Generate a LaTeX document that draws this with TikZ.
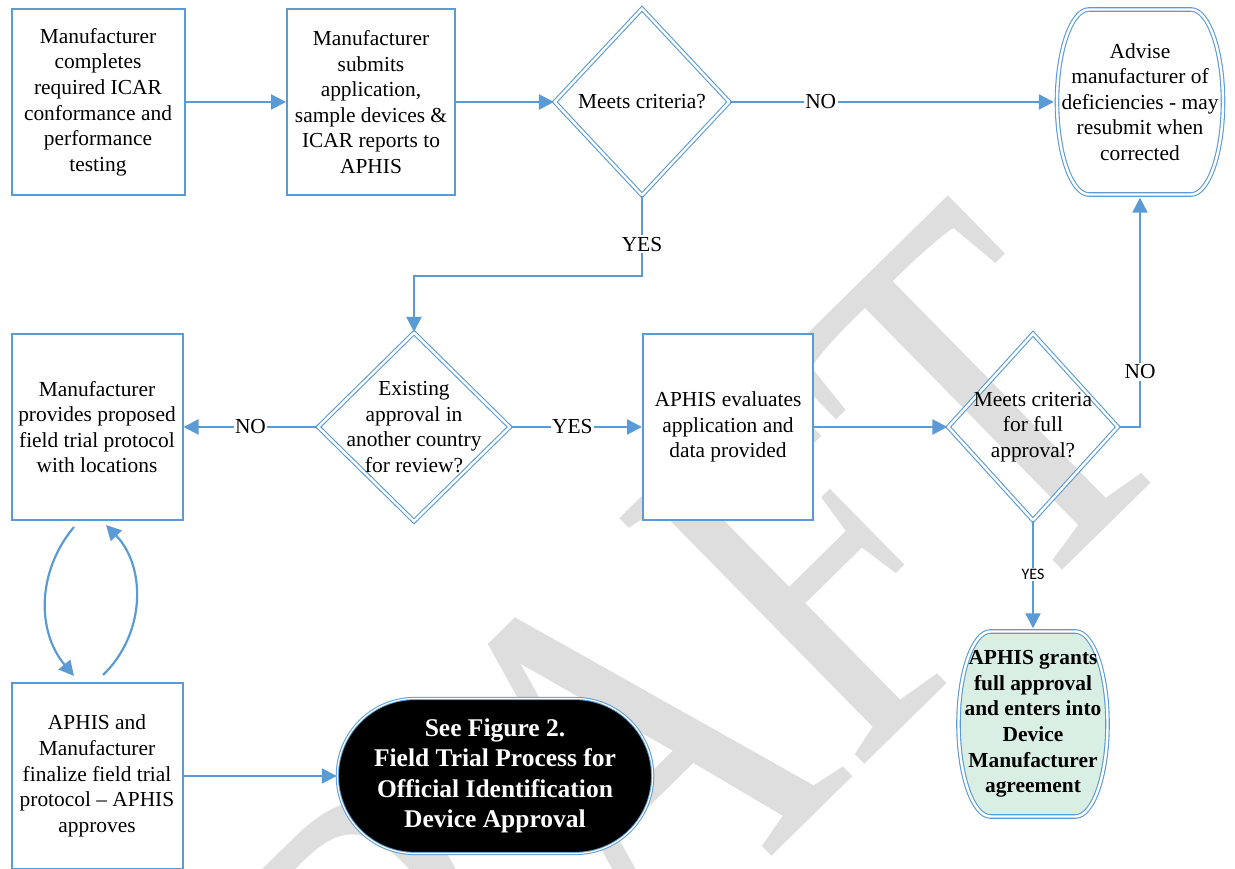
\documentclass[tikz,border=0pt]{standalone}
\usepackage{fontspec}
\setmainfont{Liberation Serif}
\newfontfamily\lblsans{Carlito}
\usetikzlibrary{shapes, arrows.meta, positioning}

\definecolor{ablue}{HTML}{5B9BD5}
\definecolor{mint}{HTML}{DAEFE3}
\definecolor{wmgray}{HTML}{DEDEDE}

\newcommand{\fs}{\fontsize{21.4}{25.6}\selectfont}
\newcommand{\fsb}{\fontsize{25.5}{30.4}\selectfont\bfseries}
\newcommand{\wmfont}{\fontsize{411}{411}\selectfont}

\tikzset{
  box/.style={draw=ablue, line width=2pt, fill=white, minimum width=171pt,
    minimum height=186pt, align=center, font=\fs},
  dec/.style={diamond, draw=ablue, line width=1.1pt, double, double distance=2.4pt,
    inner sep=0pt},
  soft/.style={inner sep=0pt, align=center, font=\fs, path picture={
    \path[draw=ablue, fill=#1, line width=1.1pt, double, double distance=2.4pt]
      ([xshift=-35pt, yshift=-3pt]path picture bounding box.north east)
      arc[start angle=90, end angle=-90, x radius=32pt, y radius=92.5pt]
      -- ([xshift=35pt, yshift=3pt]path picture bounding box.south west)
      arc[start angle=270, end angle=90, x radius=32pt, y radius=92.5pt] -- cycle;}},
  term/.style={rounded rectangle, fill=black, draw=ablue, double=white, line width=1pt,
    double distance=1.2pt, text=white, font=\fsb, align=center},
  arr/.style={draw=ablue, line width=2.2pt, -{Triangle[length=15pt, width=15pt]}},
  lbl/.style={fill=white, inner sep=1.5pt, font=\fs}
}

\begin{document}
\begin{tikzpicture}[x=1pt, y=1pt, on grid, node distance=273pt]
  \useasboundingbox (0,0) rectangle (1235,869);

  % watermark, behind everything
  \begin{scope}[shift={(236,-514)}, rotate=44.5, yscale=1.29]
    \node[transform shape, anchor=base west, inner sep=0pt, text=wmgray, font=\wmfont] (wm) at (0,0) {DRAFT};
  \end{scope}

  % top row
  \node[box, minimum width=173pt] (m1) at (98,767) {Manufacturer\\completes\\required ICAR\\conformance and\\performance\\testing};
  \node[box, minimum width=168pt] (m2) [right=of m1] {Manufacturer\\submits\\application,\\sample devices \&\\ICAR reports to\\APHIS};
  \node[dec, minimum width=175pt, minimum height=187pt] (d1) [right=271pt of m2] {};
  \node[font=\fs] (t1) at (d1) {Meets criteria?};
  \node[soft=white, minimum width=172pt, minimum height=191pt] (adv) [right=498pt of d1] {Advise\\manufacturer of\\deficiencies - may\\resubmit when\\corrected};

  % middle row
  \node[dec, minimum width=192pt, minimum height=189pt] (d2) [below left=325pt and 228pt of d1] {};
  \node[font=\fs, align=center] (t2) at (d2) {Existing\\approval in\\another country\\for review?};
  \node[box] (m3) [left=317pt of d2] {Manufacturer\\provides proposed\\field trial protocol\\with locations};
  \node[box, minimum width=170pt] (ev) [right=314pt of d2] {APHIS evaluates\\application and\\data provided};
  \node[dec, minimum width=170pt, minimum height=187pt] (d3) [right=305pt of ev] {};
  \node[font=\fs, align=center] (t3) at (d3) {Meets criteria\\for full\\approval?};

  % bottom row
  \node[soft=mint, minimum width=155pt, minimum height=191pt, font=\fs\bfseries] (grant) [below=297pt of d3] {APHIS grants\\full approval\\and enters into\\Device\\Manufacturer\\agreement};
  \node[box] (fin) [below=349pt of m3] {APHIS and\\Manufacturer\\finalize field trial\\protocol – APHIS\\approves};
  \node[term, minimum width=322pt, minimum height=155pt] (fig) [right=398pt of fin] {See Figure 2.\\Field Trial Process for\\Official Identification\\Device Approval};

  % connectors
  \draw[arr] (m1) -- (m2);
  \draw[arr] (m2) -- (d1);
  \draw[arr] (d1) -- node[lbl, pos=0.28] (no1) {NO} (adv);
  \draw[arr] (d1.south) -- node[lbl, pos=0.6] (yes1) {YES} ++(0,-80) -| (d2);
  \draw[arr] (d2) -- node[lbl] (no2) {NO} (m3);
  \draw[arr] (d2) -- node[lbl, pos=0.47] (yes2) {YES} (ev);
  \draw[arr] (ev) -- (d3);
  \draw[arr] (d3.east) -| node[lbl, pos=0.62] (no3) {NO} (adv);
  \draw[arr] (d3) -- node[lbl, font=\lblsans\fontsize{16}{16}\selectfont] (yes3) {YES} (grant);
  \draw[arr] (fin) -- (fig);
  \draw[arr] ([xshift=-23pt, yshift=-6pt]m3.south) to[bend right=40] ([xshift=-23pt, yshift=6pt]fin.north);
  \draw[arr] ([xshift=6pt, yshift=7pt]fin.north) to[bend right=45] ([xshift=9pt, yshift=-4pt]m3.south);
\end{tikzpicture}
\end{document}
